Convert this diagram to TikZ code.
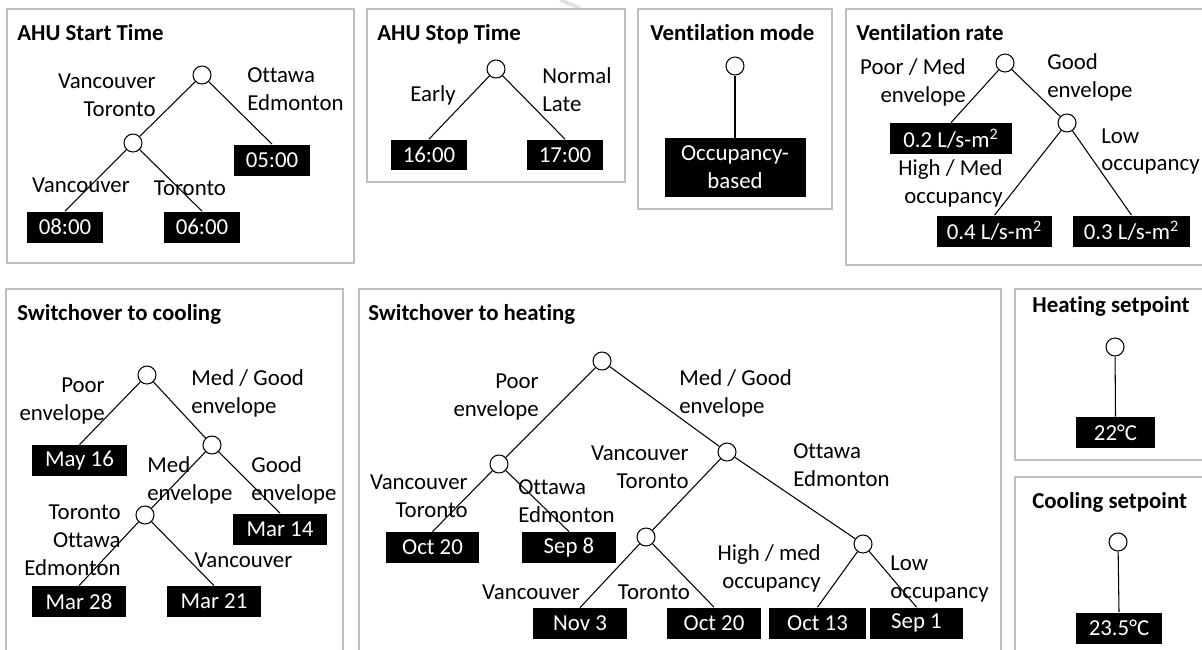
\documentclass[tikz,border=0pt]{standalone}
\usepackage{fontspec}
\setmainfont{Carlito}[Ligatures={NoCommon}]
\definecolor{framegray}{RGB}{191,191,191}

\begin{document}
\begin{tikzpicture}[x=0.02cm, y=-0.02cm,
    font=\fontsize{13}{15.9}\selectfont,
    panel/.style={draw=framegray, line width=0.6pt},
    heading/.style={font=\fontsize{13}{15.9}\selectfont\bfseries, anchor=base west, inner sep=0pt},
    split/.style={circle, draw, fill=white, line width=0.6pt, minimum size=0.36cm, inner sep=0pt},
    leaf/.style={fill=black, text=white, minimum height=0.62cm, inner sep=0pt, align=center},
    lbl/.style={inner sep=0pt},
    branch/.style={line width=0.6pt}]
    \clip (0, 0) rectangle (1202, 649);

    % faint mark at the top
    \draw[black!12, line width=2pt] (560, 0) -- (580, 8);

    % AHU start time
    \draw[panel] (7, 9) rectangle (354, 263);
    \node[heading] (startT) at (17, 40) {AHU Start Time};
    \node[split] (startA) at (202, 75) {};
    \node[split] (startB) at (133, 143) {};
    \node[leaf, minimum width=1.52cm] (startC) at (272, 160) {05:00};
    \node[leaf, minimum width=1.52cm] (startD) at (65, 227) {08:00};
    \node[leaf, minimum width=1.52cm] (startE) at (202, 227) {06:00};
    \draw[branch] (startA) -- (startB);
    \draw[branch] (startA) -- (startC.north);
    \draw[branch] (startB) -- (startD.north);
    \draw[branch] (startB) -- (startE.north);
    \node[lbl, anchor=east, align=right] at (156, 95) {Vancouver\\Toronto};
    \node[lbl, anchor=west, align=left] at (247, 89.5) {Ottawa\\Edmonton};
    \node[lbl] at (81, 185) {Vancouver};
    \node[lbl] at (190, 188) {Toronto};

    % AHU stop time
    \draw[panel] (367, 9) rectangle (625, 182);
    \node[heading] (stopT) at (377, 40) {AHU Stop Time};
    \node[split] (stopA) at (496, 69) {};
    \node[leaf, minimum width=1.52cm] (stopB) at (429, 155) {16:00};
    \node[leaf, minimum width=1.52cm] (stopC) at (565, 155) {17:00};
    \draw[branch] (stopA) -- (stopB.north);
    \draw[branch] (stopA) -- (stopC.north);
    \node[lbl, anchor=east] at (456, 95) {Early};
    \node[lbl, anchor=west, align=left] at (542, 90) {Normal\\Late};

    % Ventilation mode
    \draw[panel] (638, 9) rectangle (832, 209);
    \node[heading] (modeT) at (650, 40) {Ventilation mode};
    \node[split] (modeA) at (735, 66) {};
    \node[leaf, minimum width=2.82cm, minimum height=1.18cm] (modeB) at (735, 167.5) {Occupancy-\\based};
    \draw[branch] (modeA) -- (modeB.north);

    % Ventilation rate
    \draw[panel] (846, 9) rectangle (1215, 265);
    \node[heading] (rateT) at (856, 40) {Ventilation rate};
    \node[split] (rateA) at (1005, 63) {};
    \node[split] (rateB) at (1067, 123) {};
    \node[leaf, minimum width=2.44cm] (rateC) at (951, 138.5) {0.2 L/s-m\textsuperscript{2}};
    \node[leaf, minimum width=2.3cm] (rateD) at (994.5, 231) {0.4 L/s-m\textsuperscript{2}};
    \node[leaf, minimum width=2.34cm] (rateE) at (1131.5, 231) {0.3 L/s-m\textsuperscript{2}};
    \draw[branch] (rateA) -- (rateC.north);
    \draw[branch] (rateA) -- (rateB);
    \draw[branch] (rateB) -- (rateD.north);
    \draw[branch] (rateB) -- (rateE.north);
    \node[lbl, anchor=east, align=right] at (966, 82.5) {Poor / Med\\envelope};
    \node[lbl, anchor=west, align=left] at (1047, 77) {Good\\envelope};
    \node[lbl, anchor=east, align=right] at (1003, 183.5) {High / Med\\occupancy};
    \node[lbl, anchor=west, align=left] at (1101, 151.5) {Low\\occupancy};

    % Switchover to cooling
    \draw[panel] (6, 289) rectangle (343, 660);
    \node[heading] (coolT) at (17, 320) {Switchover to cooling};
    \node[split] (coolA) at (147, 375) {};
    \node[split] (coolB) at (212, 445) {};
    \node[split] (coolC) at (145, 515) {};
    \node[leaf, minimum width=1.9cm] (coolD) at (79.5, 460.5) {May 16};
    \node[leaf, minimum width=1.88cm] (coolE) at (280, 529) {Mar 14};
    \node[leaf, minimum width=1.88cm] (coolF) at (79, 601.5) {Mar 28};
    \node[leaf, minimum width=1.88cm] (coolG) at (214, 601.5) {Mar 21};
    \draw[branch] (coolA) -- (coolD.north);
    \draw[branch] (coolA) -- (coolB);
    \draw[branch] (coolB) -- (coolC);
    \draw[branch] (coolB) -- (coolE.north);
    \draw[branch] (coolC) -- (coolF.north);
    \draw[branch] (coolC) -- (coolG.north);
    \node[lbl, anchor=east, align=right] at (105, 401) {Poor\\envelope};
    \node[lbl, anchor=west, align=left] at (191, 393.5) {Med / Good\\envelope};
    \node[lbl, anchor=west, align=left] at (147, 480.5) {Med\\envelope};
    \node[lbl, anchor=west, align=left] at (251, 480.5) {Good\\envelope};
    \node[lbl, anchor=east, align=right] at (121, 540) {Toronto\\Ottawa\\Edmonton};
    \node[lbl] at (243.5, 560) {Vancouver};

    % Switchover to heating
    \draw[panel] (359, 289) rectangle (1001, 660);
    \node[heading] (heatT) at (368, 320) {Switchover to heating};
    \node[split] (heatA) at (602, 361) {};
    \node[split] (heatB) at (499, 464) {};
    \node[split] (heatC) at (727, 452) {};
    \node[split] (heatD) at (646, 537) {};
    \node[split] (heatE) at (863, 544) {};
    \node[leaf, minimum width=1.88cm] (heatF) at (432.5, 547.5) {Oct 20};
    \node[leaf, minimum width=1.88cm] (heatG) at (569, 547.5) {Sep 8};
    \node[leaf, minimum width=1.88cm] (heatH) at (580, 623.5) {Nov 3};
    \node[leaf, minimum width=1.88cm] (heatI) at (714, 623) {Oct 20};
    \node[leaf, minimum width=1.94cm] (heatJ) at (817.5, 623) {Oct 13};
    \node[leaf, minimum width=1.86cm] (heatK) at (916.5, 623) {Sep 1};
    \draw[branch] (heatA) -- (heatB);
    \draw[branch] (heatA) -- (heatC);
    \draw[branch] (heatB) -- (heatF.north);
    \draw[branch] (heatB) -- (heatG.north);
    \draw[branch] (heatC) -- (heatD);
    \draw[branch] (heatC) -- (heatE);
    \draw[branch] (heatD) -- (heatH.north);
    \draw[branch] (heatD) -- (heatI.north);
    \draw[branch] (heatE) -- (heatJ.north);
    \draw[branch] (heatE) -- (heatK.north);
    \node[lbl, anchor=east, align=right] at (539, 397) {Poor\\envelope};
    \node[lbl, anchor=west, align=left] at (679, 393) {Med / Good\\envelope};
    \node[lbl, anchor=east, align=right] at (689, 467.5) {Vancouver\\Toronto};
    \node[lbl, anchor=west, align=left] at (793, 465.5) {Ottawa\\Edmonton};
    \node[lbl, anchor=east, align=right] at (468, 496) {Vancouver\\Toronto};
    \node[lbl, anchor=west, align=left] at (518, 501.5) {Ottawa\\Edmonton};
    \node[lbl] at (531, 592) {Vancouver};
    \node[lbl] at (654, 592) {Toronto};
    \node[lbl, anchor=east, align=right] at (821, 568.5) {High / med\\occupancy};
    \node[lbl, anchor=west, align=left] at (890, 579) {Low\\occupancy};

    % Heating setpoint
    \draw[panel] (1015, 289) rectangle (1215, 460);
    \node[heading] (hspT) at (1032, 312) {Heating setpoint};
    \node[split] (hspA) at (1115, 347) {};
    \node[leaf, minimum width=1.58cm] (hspB) at (1115.5, 432.5) {22°C};
    \draw[branch] (hspA) -- (hspB.north);

    % Cooling setpoint
    \draw[panel] (1015, 477) rectangle (1215, 660);
    \node[heading] (cspT) at (1032, 508) {Cooling setpoint};
    \node[split] (cspA) at (1118, 542) {};
    \node[leaf, minimum width=1.72cm] (cspB) at (1119, 628) {23.5°C};
    \draw[branch] (cspA) -- (cspB.north);
\end{tikzpicture}
\end{document}
